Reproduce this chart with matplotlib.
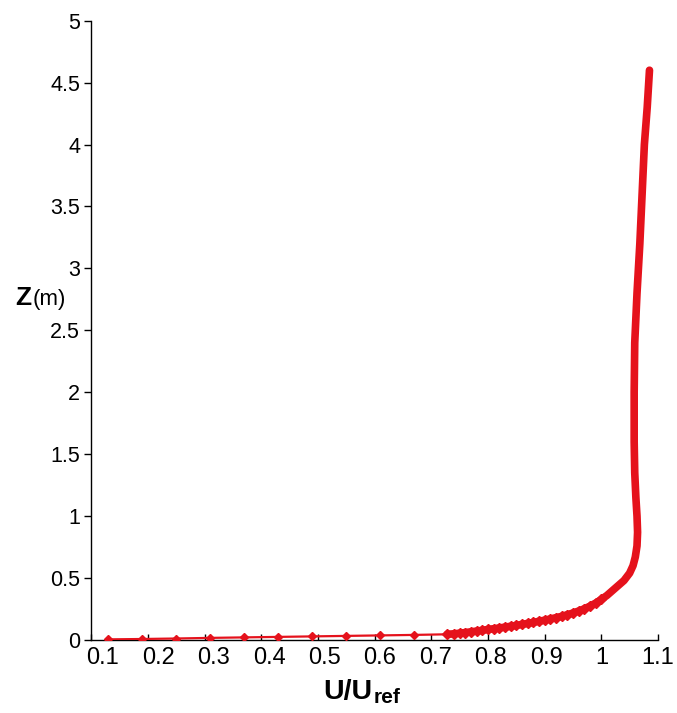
import matplotlib
matplotlib.use("Agg")
import matplotlib.pyplot as plt
from matplotlib.transforms import ScaledTranslation

plt.rcParams['font.family'] = ['Liberation Sans', 'DejaVu Sans']

# Sparse near-ground points (U/Uref, Z)
u_sparse = [0.13, 0.19, 0.25, 0.31, 0.37, 0.43, 0.49, 0.55, 0.61, 0.67, 0.728]
z_sparse = [0.005, 0.008, 0.012, 0.017, 0.021, 0.025, 0.029, 0.033, 0.037, 0.041, 0.046]

# Dense profile points (U/Uref, Z)
u_dense = [0.728, 0.74, 0.75, 0.76, 0.77, 0.78, 0.79, 0.80, 0.81, 0.82, 0.83, 0.84,
           0.85, 0.86, 0.87, 0.88, 0.89, 0.90, 0.91, 0.92, 0.93, 0.94, 0.95, 0.96,
           0.97, 0.98, 0.99, 1.00, 1.01, 1.02, 1.03, 1.04, 1.05, 1.056, 1.060,
           1.063, 1.064, 1.063, 1.061, 1.059, 1.058, 1.058, 1.059, 1.063, 1.068,
           1.072, 1.076, 1.081, 1.085]
z_dense = [0.046, 0.050, 0.055, 0.060, 0.066, 0.072, 0.078, 0.085, 0.091, 0.097, 0.104, 0.111,
           0.118, 0.126, 0.134, 0.142, 0.151, 0.160, 0.170, 0.180, 0.191, 0.204, 0.218, 0.234,
           0.252, 0.273, 0.298, 0.327, 0.36, 0.40, 0.44, 0.48, 0.54, 0.60, 0.67,
           0.76, 0.87, 1.0, 1.15, 1.35, 1.6, 2.0, 2.4, 2.8, 3.2,
           3.6, 4.0, 4.3, 4.6]

x_ticks = [0.1, 0.2, 0.3, 0.4, 0.5, 0.6, 0.7, 0.8, 0.9, 1.0, 1.1]
x_ticklabels = ['0.1', '0.2', '0.3', '0.4', '0.5', '0.6', '0.7', '0.8', '0.9', '1', '1.1']
y_ticks = [0, 0.5, 1, 1.5, 2, 2.5, 3, 3.5, 4, 4.5, 5]
y_ticklabels = ['0', '0.5', '1', '1.5', '2', '2.5', '3', '3.5', '4', '4.5', '5']

red = '#e5121c'

fig = plt.figure(figsize=(6.77, 7.13), dpi=100)
ax = fig.add_axes([0.1349, 0.1024, 0.837, 0.8686])

ax.plot(u_sparse, z_sparse, color=red, lw=1.6, marker='D', ms=4, zorder=3)
ax.plot(u_dense, z_dense, color=red, lw=5.5, solid_capstyle='round',
        solid_joinstyle='round', zorder=3)
ax.plot(u_dense[:28], z_dense[:28], color=red, lw=0, marker='D', ms=5.5, zorder=4)

ax.set_xlim(0.1, 1.1)
ax.set_ylim(0, 5)
ax.set_xticks(x_ticks)
ax.set_xticklabels(x_ticklabels)
ax.set_yticks(y_ticks)
ax.set_yticklabels(y_ticklabels)

for s in ['top', 'right']:
    ax.spines[s].set_visible(False)
for s in ['left', 'bottom']:
    ax.spines[s].set_linewidth(1.0)
    ax.spines[s].set_color('black')

ax.tick_params(axis='x', direction='in', length=4, width=1, labelsize=17, pad=5)
ax.tick_params(axis='y', direction='out', length=5, width=1, labelsize=15.5, pad=3)

# slight rightward drift of x tick labels as in the reference
for v, lab in zip(x_ticks, ax.get_xticklabels()):
    dx = 12 * (1.05 - v) / fig.dpi
    lab.set_transform(lab.get_transform() + ScaledTranslation(dx, 0, fig.dpi_scale_trans))

t1 = fig.text(323 / 677, 0.0196, 'U/U', ha='left', va='baseline',
              fontsize=20.5, fontweight='bold')
fig.canvas.draw()
bb = t1.get_window_extent(renderer=fig.canvas.get_renderer())
fig.text((bb.x1 + 1) / fig.bbox.width, 0.0140, 'ref', ha='left', va='baseline',
         fontsize=15, fontweight='bold')
fig.text(15 / 677, 0.572, 'Z', ha='left', va='baseline', fontsize=19, fontweight='bold')
fig.text(33 / 677, 0.572, '(m)', ha='left', va='baseline', fontsize=16)

fig.savefig('out.png', dpi=100, facecolor='white')
